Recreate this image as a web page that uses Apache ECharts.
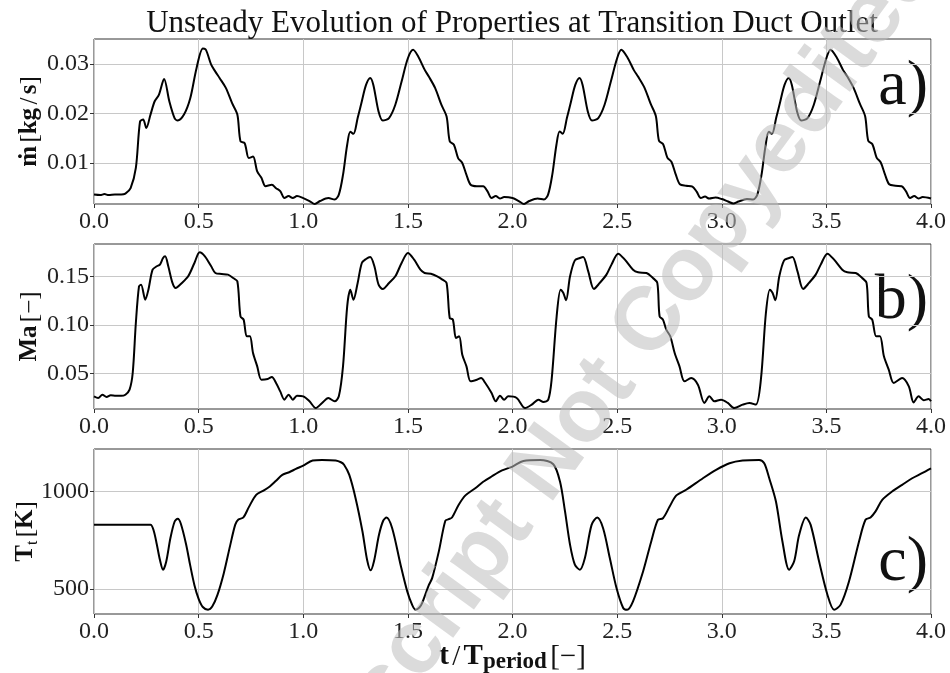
<!DOCTYPE html>
<html>
<head>
<meta charset="utf-8">
<script src="https://cdn.jsdelivr.net/npm/echarts@6/dist/echarts.min.js"></script>
<style>
  html, body { margin: 0; padding: 0; background: #fff; }
  #chart { width: 950px; height: 673px; }
</style>
</head>
<body>
<div id="chart"></div>
<script>
// [t / T_period, value] pairs
const massFlow = [
  [0, 0.0036], [0.03, 0.0035], [0.05, 0.0037], [0.07, 0.0035], [0.1, 0.0036], [0.13, 0.0036], [0.15, 0.0038],
  [0.175, 0.0049], [0.2, 0.0090], [0.22, 0.0184], [0.235, 0.0188], [0.25, 0.0171], [0.27, 0.0198], [0.29, 0.0225],
  [0.31, 0.0238], [0.335, 0.0270], [0.36, 0.0225], [0.385, 0.0191], [0.4, 0.0186], [0.43, 0.0198], [0.46, 0.0231],
  [0.49, 0.0292], [0.52, 0.0332], [0.535, 0.0329], [0.56, 0.0299], [0.58, 0.0285], [0.6, 0.0272], [0.63, 0.0252],
  [0.66, 0.0221], [0.685, 0.0198], [0.7, 0.0144], [0.72, 0.0140], [0.74, 0.0110], [0.76, 0.0113], [0.78, 0.0083],
  [0.8, 0.0070], [0.82, 0.0053], [0.85, 0.0056], [0.87, 0.0049], [0.89, 0.0043], [0.91, 0.0029], [0.93, 0.0033],
  [0.95, 0.0029], [0.97, 0.0033], [1.0, 0.0029], [1.03, 0.0023], [1.055, 0.0017], [1.08, 0.0023], [1.12, 0.0029],
  [1.15, 0.0026], [1.17, 0.0036], [1.19, 0.0076], [1.21, 0.0137], [1.225, 0.0163], [1.24, 0.0159], [1.26, 0.0191],
  [1.28, 0.0225], [1.3, 0.0258], [1.32, 0.0272], [1.335, 0.0258], [1.36, 0.0204], [1.38, 0.0186], [1.41, 0.0191],
  [1.44, 0.0218], [1.47, 0.0265], [1.5, 0.0312], [1.525, 0.0329], [1.55, 0.0315], [1.58, 0.0289], [1.6, 0.0275],
  [1.63, 0.0252], [1.66, 0.0218], [1.685, 0.0194], [1.7, 0.0144], [1.72, 0.0137], [1.74, 0.0110], [1.76, 0.0100],
  [1.78, 0.0076], [1.8, 0.0056], [1.83, 0.0053], [1.86, 0.0053], [1.88, 0.0043], [1.9, 0.0029], [1.92, 0.0033],
  [1.94, 0.0028], [1.96, 0.0031], [2.0, 0.0029], [2.03, 0.0023], [2.055, 0.0017], [2.08, 0.0023], [2.12, 0.0028],
  [2.15, 0.0026], [2.17, 0.0036], [2.19, 0.0076], [2.21, 0.0137], [2.225, 0.0164], [2.24, 0.0159], [2.26, 0.0191],
  [2.28, 0.0225], [2.3, 0.0258], [2.32, 0.0272], [2.335, 0.0258], [2.36, 0.0204], [2.38, 0.0186], [2.41, 0.0191],
  [2.44, 0.0218], [2.47, 0.0265], [2.5, 0.0312], [2.52, 0.0329], [2.55, 0.0313], [2.58, 0.0288], [2.6, 0.0275],
  [2.63, 0.0253], [2.66, 0.0220], [2.685, 0.0195], [2.7, 0.0145], [2.72, 0.0138], [2.74, 0.0111], [2.76, 0.0102],
  [2.78, 0.0077], [2.8, 0.0057], [2.83, 0.0054], [2.86, 0.0052], [2.88, 0.0042], [2.9, 0.0029], [2.92, 0.0032],
  [2.94, 0.0028], [2.97, 0.0030], [3.0, 0.0027], [3.03, 0.0022], [3.055, 0.0018], [3.08, 0.0022], [3.12, 0.0027],
  [3.15, 0.0026], [3.17, 0.0036], [3.19, 0.0076], [3.21, 0.0137], [3.225, 0.0163], [3.24, 0.0159], [3.26, 0.0191],
  [3.28, 0.0225], [3.3, 0.0258], [3.32, 0.0272], [3.335, 0.0258], [3.36, 0.0204], [3.38, 0.0186], [3.41, 0.0191],
  [3.44, 0.0218], [3.47, 0.0265], [3.5, 0.0312], [3.52, 0.0329], [3.55, 0.0313], [3.58, 0.0288], [3.6, 0.0275],
  [3.63, 0.0252], [3.66, 0.0220], [3.685, 0.0195], [3.7, 0.0145], [3.72, 0.0138], [3.74, 0.0111], [3.76, 0.0101],
  [3.78, 0.0077], [3.8, 0.0057], [3.83, 0.0054], [3.86, 0.0053], [3.88, 0.0043], [3.9, 0.0029], [3.92, 0.0033],
  [3.94, 0.0028], [3.96, 0.0031], [4.0, 0.0028]
];

const mach = [
  [0, 0.0267], [0.02, 0.0250], [0.04, 0.0284], [0.06, 0.0260], [0.08, 0.0277], [0.1, 0.0274], [0.13, 0.0272],
  [0.15, 0.0284], [0.17, 0.0336], [0.185, 0.0507], [0.2, 0.1020], [0.215, 0.1397], [0.225, 0.1414], [0.245, 0.1260],
  [0.26, 0.1363], [0.28, 0.1568], [0.3, 0.1603], [0.315, 0.1620], [0.33, 0.1688], [0.34, 0.1705], [0.355, 0.1603],
  [0.375, 0.1432], [0.39, 0.1380], [0.42, 0.1432], [0.45, 0.1500], [0.48, 0.1637], [0.505, 0.1747], [0.53, 0.1705],
  [0.56, 0.1603], [0.58, 0.1534], [0.61, 0.1524], [0.64, 0.1517], [0.665, 0.1483], [0.685, 0.1449], [0.7, 0.1089],
  [0.715, 0.1055], [0.73, 0.0884], [0.745, 0.0884], [0.76, 0.0712], [0.78, 0.0575], [0.8, 0.0438], [0.83, 0.0445],
  [0.85, 0.0466], [0.87, 0.0404], [0.89, 0.0318], [0.91, 0.0233], [0.93, 0.0284], [0.95, 0.0233], [0.97, 0.0274],
  [1.0, 0.0267], [1.03, 0.0216], [1.06, 0.0147], [1.09, 0.0199], [1.12, 0.0250], [1.15, 0.0216], [1.17, 0.0267],
  [1.19, 0.0575], [1.21, 0.1192], [1.225, 0.1363], [1.24, 0.1260], [1.26, 0.1432], [1.28, 0.1637], [1.3, 0.1678],
  [1.32, 0.1699], [1.34, 0.1603], [1.36, 0.1414], [1.38, 0.1370], [1.41, 0.1432], [1.44, 0.1500], [1.47, 0.1637],
  [1.5, 0.1740], [1.53, 0.1671], [1.56, 0.1568], [1.58, 0.1534], [1.61, 0.1527], [1.64, 0.1500], [1.665, 0.1466],
  [1.685, 0.1432], [1.7, 0.1072], [1.715, 0.1055], [1.73, 0.0866], [1.745, 0.0884], [1.76, 0.0695], [1.78, 0.0575],
  [1.8, 0.0421], [1.83, 0.0438], [1.85, 0.0455], [1.87, 0.0404], [1.9, 0.0301], [1.92, 0.0216], [1.94, 0.0274],
  [1.96, 0.0233], [1.98, 0.0267], [2.02, 0.0250], [2.06, 0.0147], [2.092, 0.0182], [2.124, 0.0233], [2.148, 0.0209],
  [2.171, 0.0233], [2.187, 0.0438], [2.211, 0.1089], [2.23, 0.1363], [2.243, 0.1329], [2.256, 0.1253], [2.275, 0.1500],
  [2.298, 0.1664], [2.322, 0.1688], [2.338, 0.1699], [2.362, 0.1551], [2.389, 0.1370], [2.417, 0.1432], [2.449, 0.1517],
  [2.473, 0.1620], [2.505, 0.1733], [2.537, 0.1671], [2.576, 0.1568], [2.6, 0.1541], [2.64, 0.1534], [2.671, 0.1483],
  [2.692, 0.1432], [2.703, 0.1089], [2.719, 0.1055], [2.735, 0.0952], [2.754, 0.0884], [2.775, 0.0712], [2.798, 0.0575],
  [2.822, 0.0421], [2.854, 0.0455], [2.886, 0.0387], [2.917, 0.0199], [2.941, 0.0267], [2.965, 0.0216], [2.997, 0.0233],
  [3.029, 0.0199], [3.06, 0.0147], [3.1, 0.0182], [3.132, 0.0199], [3.163, 0.0182], [3.187, 0.0438], [3.211, 0.1123],
  [3.23, 0.1363], [3.243, 0.1329], [3.256, 0.1253], [3.275, 0.1500], [3.298, 0.1664], [3.322, 0.1688], [3.338, 0.1699],
  [3.362, 0.1551], [3.389, 0.1370], [3.417, 0.1432], [3.449, 0.1517], [3.473, 0.1620], [3.505, 0.1733], [3.537, 0.1671],
  [3.576, 0.1568], [3.6, 0.1541], [3.64, 0.1534], [3.671, 0.1483], [3.692, 0.1432], [3.703, 0.1089], [3.719, 0.1055],
  [3.738, 0.0884], [3.756, 0.0884], [3.775, 0.0678], [3.798, 0.0541], [3.822, 0.0404], [3.862, 0.0455], [3.894, 0.0370],
  [3.917, 0.0205], [3.941, 0.0267], [3.965, 0.0226], [3.989, 0.0240], [4.0, 0.0216]
];

const totalTemp = [
  [0, 829], [0.1, 829], [0.2, 830], [0.27, 830], [0.285, 800], [0.3, 730], [0.315, 650], [0.33, 599], [0.345, 640],
  [0.365, 760], [0.385, 845], [0.4, 860], [0.415, 835], [0.44, 730], [0.46, 620], [0.48, 520], [0.5, 450], [0.52, 408],
  [0.545, 394], [0.565, 410], [0.59, 470], [0.62, 580], [0.65, 720], [0.675, 830], [0.69, 856], [0.714, 867], [0.74, 920],
  [0.775, 983], [0.81, 1005], [0.84, 1026], [0.87, 1055], [0.9, 1085], [0.935, 1100], [0.965, 1116], [1.0, 1133],
  [1.045, 1159], [1.09, 1162], [1.155, 1159], [1.18, 1150], [1.195, 1137], [1.22, 1085], [1.25, 966], [1.283, 795],
  [1.305, 650], [1.322, 596], [1.338, 642], [1.362, 778], [1.382, 850], [1.398, 867], [1.425, 812], [1.465, 625],
  [1.497, 488], [1.52, 420], [1.537, 394], [1.555, 405], [1.568, 428], [1.6, 520], [1.616, 556], [1.648, 693],
  [1.679, 850], [1.695, 858], [1.711, 867], [1.743, 932], [1.775, 980], [1.822, 1017], [1.86, 1050], [1.9, 1077],
  [1.95, 1108], [2.0, 1128], [2.052, 1157], [2.132, 1162], [2.195, 1140], [2.227, 1051], [2.251, 898], [2.275, 727],
  [2.298, 625], [2.322, 599], [2.346, 659], [2.378, 829], [2.405, 867], [2.433, 812], [2.465, 659], [2.497, 505],
  [2.529, 403], [2.548, 394], [2.576, 437], [2.624, 590], [2.663, 744], [2.695, 855], [2.719, 863], [2.751, 923],
  [2.783, 980], [2.83, 1009], [2.91, 1068], [2.973, 1111], [3.037, 1145], [3.1, 1159], [3.179, 1162], [3.203, 1145],
  [3.227, 1068], [3.259, 949], [3.29, 744], [3.322, 599], [3.346, 642], [3.37, 778], [3.402, 867], [3.425, 829],
  [3.465, 642], [3.505, 471], [3.537, 394], [3.568, 420], [3.608, 539], [3.656, 744], [3.687, 855], [3.711, 867],
  [3.735, 898], [3.767, 957], [3.814, 1000], [3.862, 1034], [3.91, 1068], [3.957, 1094], [4.0, 1119]
];

const massFlowTicks = [0.01, 0.02, 0.03];
const machTicks = [0.05, 0.10, 0.15];
const tempTicks = [500, 1000];
const panelLetters = ['a)', 'b)', 'c)'];
const titleText = 'Unsteady Evolution of Properties at Transition Duct Outlet';
const watermarkText = 'Accepted Manuscript Not Copyedited';

const SERIF = "'Liberation Serif', 'DejaVu Serif', serif";
const INK = '#111';

const nameRich = {
  b: { fontFamily: SERIF, fontWeight: 'bold', fontSize: 25, color: INK, lineHeight: 30 },
  r: { fontFamily: SERIF, fontWeight: 'normal', fontSize: 25, color: INK, lineHeight: 30 },
  sub: { fontFamily: SERIF, fontWeight: 'normal', fontSize: 16, color: INK, lineHeight: 14, verticalAlign: 'bottom' },
  xb: { fontFamily: SERIF, fontWeight: 'bold', fontSize: 29, color: INK, lineHeight: 34 },
  xr: { fontFamily: SERIF, fontWeight: 'normal', fontSize: 29, color: INK, lineHeight: 34 },
  xsub: { fontFamily: SERIF, fontWeight: 'bold', fontSize: 23, color: INK, lineHeight: 20, verticalAlign: 'bottom' }
};

const gridTops = [39, 244, 449];

function xAxisFor(i) {
  const ax = {
    gridIndex: i, type: 'value', min: 0, max: 4, interval: 0.5,
    axisLine: { show: false },
    axisTick: { show: true, length: 4, lineStyle: { color: '#333' } },
    axisLabel: { margin: 6, fontSize: 24, fontFamily: SERIF, color: '#222', formatter: v => v.toFixed(1) },
    splitLine: { show: true, lineStyle: { color: '#c8c8c8', width: 1 } }
  };
  if (i === 2) {
    ax.name = '{xb|t} {xr|/} {xb|T}{xsub|period} {xr|[−]}';
    ax.nameLocation = 'middle';
    ax.nameGap = 26;
    ax.nameMoveOverlap = false;
    ax.nameTextStyle = { rich: nameRich };
  }
  return ax;
}

function yAxisFor(i, min, max, ticks, fmt, name, gap) {
  return {
    gridIndex: i, type: 'value', min: min, max: max,
    axisLine: { show: false },
    axisTick: { show: true, length: 4, customValues: ticks, lineStyle: { color: '#333' } },
    axisLabel: { margin: 5, fontSize: 24, fontFamily: SERIF, color: '#222', customValues: ticks, formatter: fmt },
    splitLine: { show: true, lineStyle: { color: '#c8c8c8', width: 1 } },
    name: name, nameLocation: 'middle', nameRotate: 90, nameGap: gap, nameMoveOverlap: false,
    nameTextStyle: { rich: nameRich }
  };
}

function lineSeries(i, data) {
  return {
    type: 'line', xAxisIndex: i, yAxisIndex: i, data: data,
    showSymbol: false, smooth: 0.3, animation: false,
    lineStyle: { color: '#000', width: 2 }
  };
}

const chart = echarts.init(document.getElementById('chart'), null, { renderer: 'canvas' });

chart.setOption({
  backgroundColor: '#fff',
  animation: false,
  grid: gridTops.map(t => ({
    left: 94, right: 19, top: t, height: 165, containLabel: false, outerBoundsMode: 'none',
    show: true, borderColor: '#333', borderWidth: 1, backgroundColor: 'transparent'
  })),
  xAxis: [xAxisFor(0), xAxisFor(1), xAxisFor(2)],
  yAxis: [
    yAxisFor(0, 0.0017, 0.0351, massFlowTicks, v => v.toFixed(2), '{b|ṁ} {r|[}{b|kg} {r|/} {b|s}{r|]}', 49),
    yAxisFor(1, 0.0137, 0.1832, machTicks, v => v.toFixed(2), '{b|Ma} {r|[−]}', 49),
    yAxisFor(2, 372, 1218, tempTicks, v => String(Math.round(v)), '{b|T}{sub|t} {r|[}{b|K}{r|]}', 53)
  ],
  series: [lineSeries(0, massFlow), lineSeries(1, mach), lineSeries(2, totalTemp)],
  graphic: [
    {
      type: 'text', x: 512, y: 24,
      style: { text: titleText, fontFamily: SERIF, fontSize: 31, fill: INK, align: 'center', verticalAlign: 'middle' }
    },
    {
      type: 'text', x: 928, y: 87,
      style: { text: panelLetters[0], fontFamily: SERIF, fontSize: 64, fill: INK, align: 'right', verticalAlign: 'middle' }
    },
    {
      type: 'text', x: 928, y: 301,
      style: { text: panelLetters[1], fontFamily: SERIF, fontSize: 64, fill: INK, align: 'right', verticalAlign: 'middle' }
    },
    {
      type: 'text', x: 928, y: 563,
      style: { text: panelLetters[2], fontFamily: SERIF, fontSize: 64, fill: INK, align: 'right', verticalAlign: 'middle' }
    },
    {
      type: 'text', x: 450, y: 600, rotation: 54 * Math.PI / 180, z: 100,
      style: {
        text: watermarkText, fontFamily: "'Liberation Sans', Arial, sans-serif", fontWeight: 'bold',
        fontSize: 90, fill: 'rgba(190,190,190,0.55)', align: 'center', verticalAlign: 'middle'
      }
    }
  ]
});
</script>
</body>
</html>
